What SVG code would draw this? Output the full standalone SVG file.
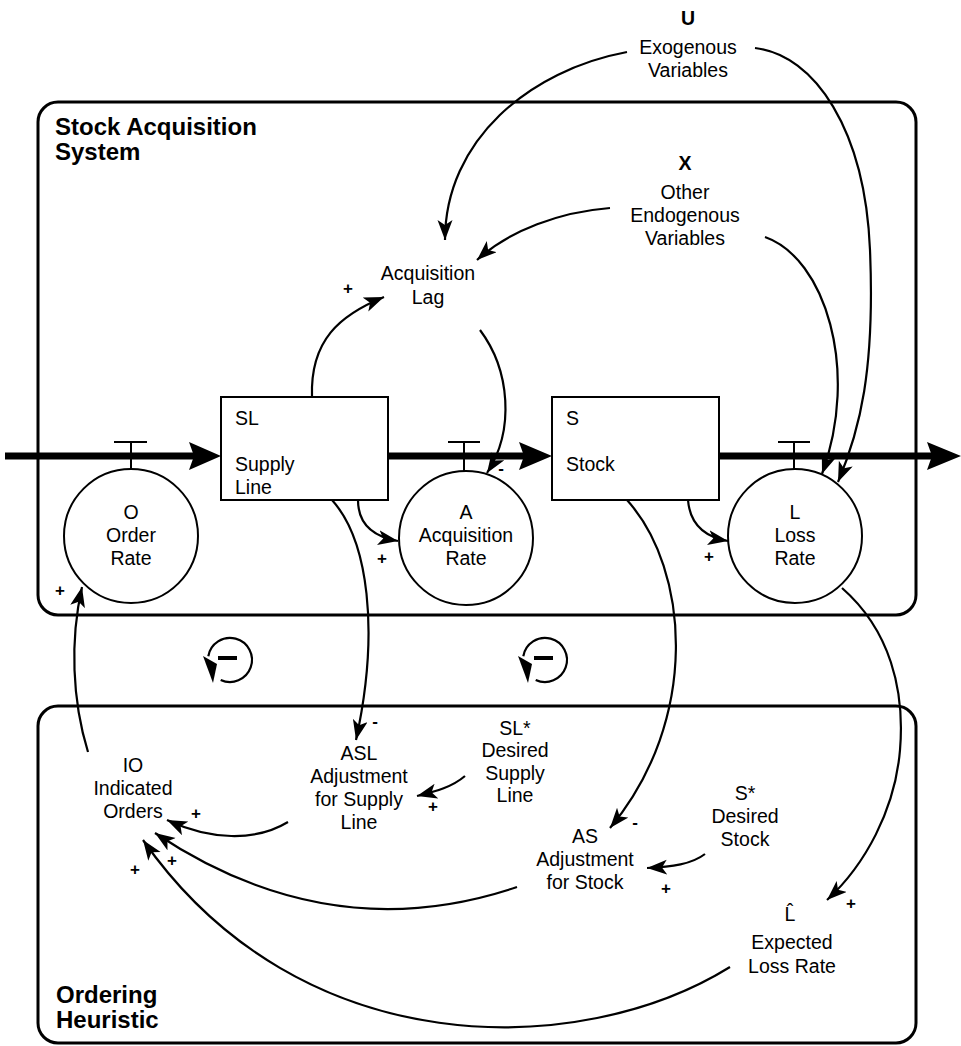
<svg xmlns="http://www.w3.org/2000/svg" width="961" height="1046" viewBox="0 0 961 1046">
<style>
text{font-family:"Liberation Sans",Arial,sans-serif;fill:#000}
.t{font-size:19.5px;text-anchor:middle}
.tl{font-size:19.5px}
.b{font-weight:bold}
.title{font-size:24px;font-weight:bold}
.sg{font-size:17px;font-weight:bold;text-anchor:middle}
.box{fill:#fff;stroke:#000;stroke-width:2}
.frame{fill:none;stroke:#000;stroke-width:3}
.pipe{stroke:#000;stroke-width:7;fill:none}
.c{fill:none;stroke:#000;stroke-width:2.2;marker-end:url(#ah)}
.v{stroke:#000;stroke-width:2;fill:none}
.lp{stroke:#000;stroke-width:2.2;fill:none}
</style>
<defs>
<marker id="ah" markerUnits="userSpaceOnUse" markerWidth="22" markerHeight="16" refX="20" refY="7.5" orient="auto"><path d="M0,0 L20,7.5 L0,15 L5,7.5 Z" fill="#000"/></marker>
</defs>
<rect width="961" height="1046" fill="#fff"/>
<g id="frames">
<rect class="frame" x="38" y="102" width="878" height="513" rx="20"/>
<rect class="frame" x="38" y="706" width="878" height="337" rx="20"/>
<text class="title" x="55" y="135">Stock Acquisition</text>
<text class="title" x="55" y="160">System</text>
<text class="title" x="56" y="1003">Ordering</text>
<text class="title" x="56" y="1028">Heuristic</text>
</g>
<g id="pipes">
<line class="pipe" x1="5" y1="456" x2="195" y2="456"/>
<polygon points="189,442 221,456 189,470 194,456"/>
<line class="pipe" x1="388" y1="456" x2="525" y2="456"/>
<polygon points="519,442 552,456 519,470 524,456"/>
<line class="pipe" x1="719" y1="456" x2="935" y2="456"/>
<polygon points="927,442 961,456 927,470 932,456"/>
</g>
<g id="connectors">
<path class="c" d="M88 752 C72 700 70 640 82 587"/>
<path class="c" d="M312 397 C310 340 340 315 384 297"/>
<path class="c" d="M480 330 C510 370 515 430 487 473"/>
<path class="c" d="M627 52 C530 70 445 140 445 240"/>
<path class="c" d="M755 48 C815 55 865 130 870 250 C875 370 860 430 838 482"/>
<path class="c" d="M610 208 C560 212 510 230 477 260"/>
<path class="c" d="M765 237 C825 258 860 370 822 474"/>
<path class="c" d="M358 500 C358 525 375 537 398 541"/>
<path class="c" d="M688 500 C690 525 705 537 728 541"/>
<path class="c" d="M332 500 C368 540 380 630 356 740"/>
<path class="c" d="M627 500 C690 570 700 720 610 828"/>
<path class="c" d="M842 588 C890 630 905 690 900 750 C895 810 865 865 827 900"/>
<path class="c" d="M465 776 C452 787 437 791 417 796"/>
<path class="c" d="M705 854 C692 864 672 867 647 868"/>
<path class="c" d="M288 822 C255 842 210 840 167 820"/>
<path class="c" d="M517 887 Q330 950 155 833"/>
<path class="c" d="M730 967 C580 1060 300 1065 143 840"/>
</g>
<g id="SL">
<rect class="box" x="221" y="397" width="167" height="103"/>
<text class="tl" x="235" y="425">SL</text>
<text class="tl" x="235" y="471">Supply</text>
<text class="tl" x="235" y="494">Line</text>
</g>
<g id="S">
<rect class="box" x="552" y="397" width="167" height="103"/>
<text class="tl" x="566" y="425">S</text>
<text class="tl" x="566" y="471">Stock</text>
</g>
<g id="O">
<line class="v" x1="131" y1="442" x2="131" y2="470"/>
<line class="v" x1="114" y1="442" x2="147" y2="442"/>
<circle class="box" cx="131" cy="536" r="67"/>
<text class="t" x="131" y="519">O</text>
<text class="t" x="131" y="542">Order</text>
<text class="t" x="131" y="565">Rate</text>
</g>
<g id="A">
<line class="v" x1="464" y1="442" x2="464" y2="471"/>
<line class="v" x1="448" y1="442" x2="480" y2="442"/>
<circle class="box" cx="466" cy="538" r="67"/>
<text class="t" x="466" y="519">A</text>
<text class="t" x="466" y="542">Acquisition</text>
<text class="t" x="466" y="565">Rate</text>
</g>
<g id="L">
<line class="v" x1="794" y1="442" x2="794" y2="469"/>
<line class="v" x1="778" y1="442" x2="810" y2="442"/>
<circle class="box" cx="795" cy="536" r="67"/>
<text class="t" x="795" y="519">L</text>
<text class="t" x="795" y="542">Loss</text>
<text class="t" x="795" y="565">Rate</text>
</g>
<g id="U">
<text class="t b" x="688" y="25">U</text>
<text class="t" x="688" y="54">Exogenous</text>
<text class="t" x="688" y="77">Variables</text>
</g>
<g id="X">
<text class="t b" x="685" y="170">X</text>
<text class="t" x="685" y="199">Other</text>
<text class="t" x="685" y="222">Endogenous</text>
<text class="t" x="685" y="245">Variables</text>
</g>
<g id="AcqLag">
<text class="t" x="428" y="280">Acquisition</text>
<text class="t" x="428" y="304">Lag</text>
</g>
<g id="IO">
<text class="t" x="133" y="772">IO</text>
<text class="t" x="133" y="795">Indicated</text>
<text class="t" x="133" y="818">Orders</text>
</g>
<g id="ASL">
<text class="t" x="359" y="760">ASL</text>
<text class="t" x="359" y="783">Adjustment</text>
<text class="t" x="359" y="806">for Supply</text>
<text class="t" x="359" y="829">Line</text>
</g>
<g id="SLstar">
<text class="t" x="515" y="735">SL*</text>
<text class="t" x="515" y="757">Desired</text>
<text class="t" x="515" y="780">Supply</text>
<text class="t" x="515" y="802">Line</text>
</g>
<g id="AS">
<text class="t" x="585" y="843">AS</text>
<text class="t" x="585" y="866">Adjustment</text>
<text class="t" x="585" y="889">for Stock</text>
</g>
<g id="Sstar">
<text class="t" x="745" y="800">S*</text>
<text class="t" x="745" y="823">Desired</text>
<text class="t" x="745" y="846">Stock</text>
</g>
<g id="Lhat">
<text class="t" x="790" y="921">L̂</text>
<text class="t" x="792" y="949">Expected</text>
<text class="t" x="792" y="973">Loss Rate</text>
</g>
<g id="loop1">
<path class="lp" d="M220.7 679.9 A22 22 0 1 0 208.3 656.2"/>
<polygon points="203,656 217,664 213,683"/>
<line x1="218" y1="658" x2="237" y2="658" stroke="#000" stroke-width="4"/>
</g>
<g id="loop2">
<path class="lp" d="M535.7 679.9 A22 22 0 1 0 523.3 656.2"/>
<polygon points="518,656 532,664 528,683"/>
<line x1="534" y1="658" x2="553" y2="658" stroke="#000" stroke-width="4"/>
</g>
<g id="signs">
<text class="sg" x="348" y="294">+</text>
<text class="sg" x="60" y="596">+</text>
<text class="sg" x="382" y="564">+</text>
<text class="sg" x="501" y="474">-</text>
<text class="sg" x="709" y="562">+</text>
<text class="sg" x="375" y="727">-</text>
<text class="sg" x="433" y="812">+</text>
<text class="sg" x="635" y="828">-</text>
<text class="sg" x="666" y="894">+</text>
<text class="sg" x="851" y="909">+</text>
<text class="sg" x="196" y="819">+</text>
<text class="sg" x="172" y="866">+</text>
<text class="sg" x="135" y="875">+</text>
</g>
</svg>
